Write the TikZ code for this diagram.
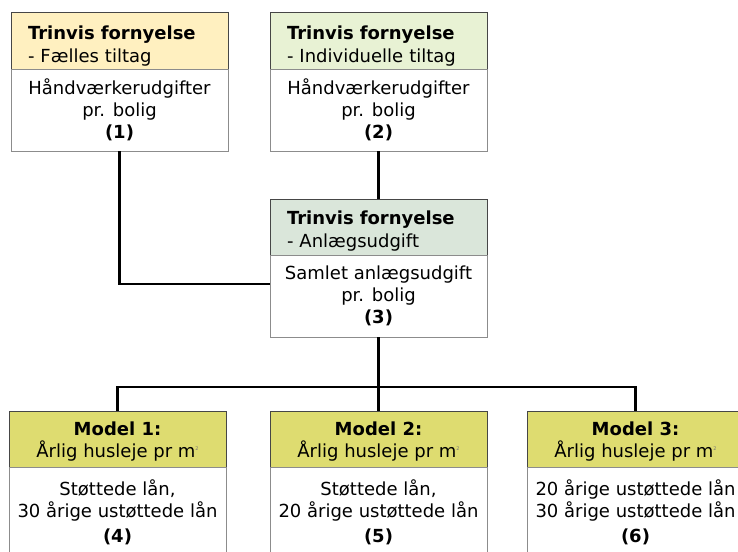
\documentclass[tikz,border=0pt]{standalone}
\usepackage{fontspec}
\setmainfont{DejaVu Sans}
\usetikzlibrary{calc}

\definecolor{hdrcream}{RGB}{255,240,192}
\definecolor{hdrgreen}{RGB}{232,242,212}
\definecolor{hdrsage}{RGB}{218,230,218}
\definecolor{hdrolive}{RGB}{222,220,112}
\definecolor{hdrline}{RGB}{70,70,70}
\definecolor{bodyline}{RGB}{140,140,140}
\definecolor{supgray}{RGB}{120,120,120}

\newcommand{\sqm}{m\raisebox{7pt}{\fontsize{5}{5}\selectfont\color{supgray}2}}

\tikzset{
  base/.style={rectangle, inner sep=0pt, outer sep=0pt, line width=1pt,
               font=\fontsize{18}{22}\selectfont},
  hdrbox/.style={base, draw=hdrline, minimum width=217pt, minimum height=56pt,
                 anchor=north west},
  hdrtext/.style={base, font=\fontsize{18}{23}\selectfont, text width=183pt, align=left},
  modeltext/.style={base, align=center},
  bodybox/.style={base, draw=bodyline, fill=white, minimum width=217pt,
                  minimum height=82pt, align=center, anchor=north},
  link/.style={line width=2.4pt, black}
}

\begin{document}
\begin{tikzpicture}[x=1pt,y=-1pt]
\useasboundingbox (0,0) rectangle (738,551);
\clip (0,0) rectangle (738,551);
\fill[white] (0,0) rectangle (738,551);

% upper row: renovation steps
\node[hdrbox, fill=hdrcream] (h1) at (11,13) {};
\node[hdrtext] (t1) at ([yshift=-5pt]h1.center)
  {\textbf{Trinvis fornyelse}\\- Fælles tiltag};
\node[bodybox] (b1) at (h1.south)
  {Håndværkerudgifter\\pr. bolig\\\textbf{(1)}};

\node[hdrbox, fill=hdrgreen] (h2) at (270,13) {};
\node[hdrtext] (t2) at ([yshift=-5pt]h2.center)
  {\textbf{Trinvis fornyelse}\\- Individuelle tiltag};
\node[bodybox] (b2) at (h2.south)
  {Håndværkerudgifter\\pr. bolig\\\textbf{(2)}};

% middle: total construction cost
\node[hdrbox, fill=hdrsage] (h3) at (270,199) {};
\node[hdrtext] (t3) at ([yshift=-4pt]h3.center)
  {\textbf{Trinvis fornyelse}\\- Anlægsudgift};
\node[bodybox] (b3) at (h3.south)
  {Samlet anlægsudgift\\pr. bolig\\\textbf{(3)}};

% bottom row: rent models
\node[hdrbox, fill=hdrolive] (h4) at (9,411) {};
\node[modeltext] (t4) at ([yshift=-3pt]h4.center)
  {\textbf{Model 1:}\\Årlig husleje pr \sqm};
\node[bodybox, minimum height=90pt] (b4) at (h4.south)
  {Støttede lån,\\30 årige ustøttede lån\\[3pt]\textbf{(4)}};

\node[hdrbox, fill=hdrolive] (h5) at (270,411) {};
\node[modeltext] (t5) at ([yshift=-3pt]h5.center)
  {\textbf{Model 2:}\\Årlig husleje pr \sqm};
\node[bodybox, minimum height=90pt] (b5) at (h5.south)
  {Støttede lån,\\20 årige ustøttede lån\\[3pt]\textbf{(5)}};

\node[hdrbox, fill=hdrolive] (h6) at (527,411) {};
\node[modeltext] (t6) at ([yshift=-3pt]h6.center)
  {\textbf{Model 3:}\\Årlig husleje pr \sqm};
\node[bodybox, minimum height=90pt] (b6) at (h6.south)
  {20 årige ustøttede lån\\30 årige ustøttede lån\\[3pt]\textbf{(6)}};

% connectors
\draw[link] (b1.south) |- ([yshift=12pt]b3.west);
\draw[link] (b2.south) -- (h3.north);
\coordinate (bus) at ($(b3.south)+(0,50)$);
\draw[link] (b3.south) -- (h5.north);
\draw[link] (h4.north) |- (bus) -| (h6.north);
\end{tikzpicture}
\end{document}
